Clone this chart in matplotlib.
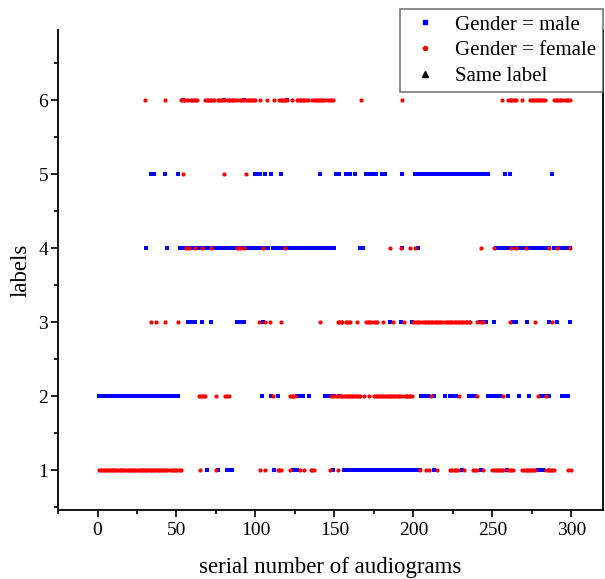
import matplotlib
matplotlib.use("Agg")
import matplotlib.pyplot as plt
from matplotlib.lines import Line2D
from matplotlib.ticker import MultipleLocator

plt.rcParams['font.family'] = ['Liberation Serif', 'DejaVu Serif']

# serial numbers of audiograms per label, male (blue) and female (red)
male_l1 = [69, 76, 82, 83, 84, 85, 112, 124, 125, 126, 149,
           156, 157, 158, 159, 160, 161, 162, 163, 164, 165, 166, 167, 168, 169, 170,
           171, 172, 173, 174, 175, 176, 177, 178, 179, 180, 181, 182, 183, 184, 185,
           186, 187, 188, 189, 190, 191, 192, 193, 194, 195, 196, 197, 198, 199, 200,
           201, 202, 203, 204, 213, 231, 243, 259, 279, 280, 281, 282]
female_l1 = [1, 2, 3, 4, 5, 6, 7, 8, 9, 10, 11, 12, 13, 14, 15, 16, 17, 18, 19, 20,
             21, 22, 23, 24, 25, 26, 27, 28, 29, 30, 31, 32, 33, 34, 35, 36, 37, 38, 39,
             40, 41, 42, 43, 44, 46, 47, 48, 49, 50, 51, 52, 53, 65, 75, 103, 106,
             114, 115, 116, 122, 128, 131, 135, 136, 137, 147, 152, 204, 208, 210,
             215, 223, 224, 225, 226, 227, 228, 232, 238, 239, 240, 244, 250, 251,
             252, 253, 254, 255, 256, 257, 260, 261, 262, 263, 269, 270, 271, 272,
             273, 274, 275, 276, 277, 284, 285, 286, 287, 288, 289, 298, 300]

male_l2 = [1, 2, 3, 4, 5, 6, 7, 8, 9, 10, 11, 12, 13, 14, 15, 16, 17, 18, 19, 20,
           21, 22, 23, 24, 25, 26, 27, 28, 29, 30, 31, 32, 33, 34, 35, 36, 37, 38, 39,
           40, 41, 42, 43, 45, 46, 47, 48, 49, 50, 51, 104, 110, 114, 126, 127, 128,
           129, 130, 134, 144, 145, 146, 147, 150, 153, 205, 206, 207, 208, 209, 213,
           220, 223, 224, 225, 226, 227, 235, 236, 237, 239, 247, 248, 249, 250, 251,
           252, 255, 260, 267, 273, 281, 282, 283, 284, 285, 286, 294, 295, 296, 297,
           298]
female_l2 = [64, 65, 66, 67, 68, 75, 81, 82, 83, 111, 122, 123, 124, 125, 148, 149,
             151, 152, 154, 155, 156, 157, 158, 159, 160, 161, 162, 163, 164, 165, 166,
             169, 172, 175, 176, 177, 178, 179, 180, 181, 182, 183, 184, 185, 186, 187,
             188, 189, 190, 191, 192, 194, 195, 196, 197, 198, 199, 211, 229, 240, 257,
             279, 284]

male_l3 = [57, 58, 59, 62, 66, 72, 88, 89, 90, 93, 105, 185, 192, 199, 242, 243, 244,
           245, 246, 251, 263, 264, 265, 272, 286, 291, 299]
female_l3 = [34, 37, 43, 51, 102, 106, 109, 116, 141, 152, 153, 154, 155, 157, 158,
             159, 160, 164, 170, 171, 172, 173, 175, 176, 177, 181, 187, 194, 200, 201,
             202, 203, 204, 206, 207, 208, 209, 210, 211, 212, 213, 214, 215, 216, 217,
             218, 220, 221, 222, 223, 224, 225, 226, 227, 228, 229, 230, 231, 232, 233,
             234, 235, 236, 240, 243, 244, 261, 277, 288]

male_l4 = [31, 44, 52, 53, 54, 55, 56, 57, 58, 59, 60, 61, 62, 63, 64, 65, 66, 67, 68,
           69, 70, 71, 72, 73, 74, 75, 76, 77, 78, 79, 80, 82, 83, 84, 85, 86, 87, 88,
           89, 90, 91, 92, 93, 94, 95, 96, 97, 98, 99, 100, 101, 103, 104, 105, 106,
           107, 108, 111, 112, 113, 114, 115, 116, 117, 118, 119, 120, 121, 123, 124,
           125, 126, 127, 128, 129, 130, 131, 132, 133, 134, 135, 136, 137, 138, 139,
           140, 141, 142, 143, 144, 145, 146, 147, 148, 149, 150, 166, 167, 168, 193,
           203, 252, 253, 254, 255, 256, 258, 260, 261, 262, 263, 264, 265, 266, 268,
           269, 270, 271, 272, 274, 275, 276, 277, 278, 279, 280, 281, 282, 283, 284,
           285, 286, 289, 290, 291, 292, 293, 294, 296, 297, 298, 299]
female_l4 = [56, 58, 62, 66, 72, 88, 90, 93, 105, 119, 185, 192, 198, 201, 243, 251,
             262, 265, 271, 286, 291, 299]

male_l5 = [34, 36, 43, 51, 100, 101, 102, 103, 106, 110, 116, 141, 151, 152, 153, 157,
           158, 159, 160, 163, 170, 171, 173, 174, 175, 176, 180, 181, 182, 193, 201,
           202, 203, 204, 205, 206, 207, 208, 209, 210, 211, 212, 213, 214, 215, 216,
           217, 218, 219, 220, 221, 222, 223, 225, 226, 227, 228, 229, 230, 231, 232,
           233, 234, 235, 237, 238, 239, 240, 241, 242, 243, 244, 245, 246, 247, 258,
           261, 288]
female_l5 = [54, 80, 94]

male_l6 = [54, 80, 93, 120]
female_l6 = [30, 43, 53, 54, 55, 56, 57, 59, 60, 61, 62, 63, 68, 69, 70, 71, 72, 73, 74,
             76, 77, 78, 79, 80, 82, 83, 84, 85, 86, 87, 88, 90, 91, 92, 94, 95, 96, 97,
             98, 99, 100, 103, 107, 112, 115, 116, 117, 118, 119, 120, 123, 126, 127,
             128, 129, 130, 131, 132, 133, 136, 137, 138, 139, 140, 141, 142, 143, 144,
             146, 147, 148, 149, 167, 193, 256, 260, 261, 262, 263, 264, 265, 269, 274,
             275, 276, 277, 278, 279, 280, 281, 282, 283, 289, 290, 291, 292, 293, 294,
             296, 297, 298, 299]

male_rows = [male_l1, male_l2, male_l3, male_l4, male_l5, male_l6]
female_rows = [female_l1, female_l2, female_l3, female_l4, female_l5, female_l6]

mx, my, fx, fy = [], [], [], []
for lab, (m, f) in enumerate(zip(male_rows, female_rows), start=1):
    mx += m
    my += [lab] * len(m)
    fx += f
    fy += [lab] * len(f)

fig = plt.figure(figsize=(6.05, 5.79), dpi=100)
ax = fig.add_axes([0.0959, 0.1192, 0.9008, 0.829])

ax.scatter(mx, my, marker='s', s=6, c='#0000ff', linewidths=0, zorder=3)
ax.scatter(fx, fy, marker='o', s=9, c='#ff0000', linewidths=0, zorder=4)

ax.set_xlim(-25, 320)
ax.set_ylim(0.46, 6.95)
ax.xaxis.set_major_locator(MultipleLocator(50))
ax.xaxis.set_minor_locator(MultipleLocator(25))
ax.yaxis.set_major_locator(MultipleLocator(1))
ax.yaxis.set_minor_locator(MultipleLocator(0.5))
ax.tick_params(which='major', direction='out', length=5, width=1.2, labelsize=14)
ax.tick_params(axis='y', which='major', pad=2)
ax.tick_params(which='minor', direction='out', length=3, width=1.2)
ax.tick_params(right=False, top=False)

ax.spines['top'].set_visible(False)
for s in ['left', 'bottom', 'right']:
    ax.spines[s].set_linewidth(1.3)

ax.set_xlabel('serial number of audiograms', fontsize=16.5, labelpad=13)
ax.set_ylabel('labels', fontsize=16.5, labelpad=5)

handles = [
    Line2D([], [], linestyle='none', marker='s', markersize=2.5, color='#0000ff'),
    Line2D([], [], linestyle='none', marker='o', markersize=3, color='#ff0000'),
    Line2D([], [], linestyle='none', marker='^', markersize=5, color='black'),
]
leg = fig.legend(handles, ['Gender = male', 'Gender = female', 'Same label'],
                 loc='upper right', bbox_to_anchor=(0.996, 0.985), fontsize=15,
                 frameon=True, fancybox=False, edgecolor='#555555',
                 handlelength=1.8, handletextpad=0.55, labelspacing=0.3,
                 borderpad=0.3, borderaxespad=0)
leg.get_frame().set_linewidth(1.2)

fig.savefig('out.png', dpi=100)
